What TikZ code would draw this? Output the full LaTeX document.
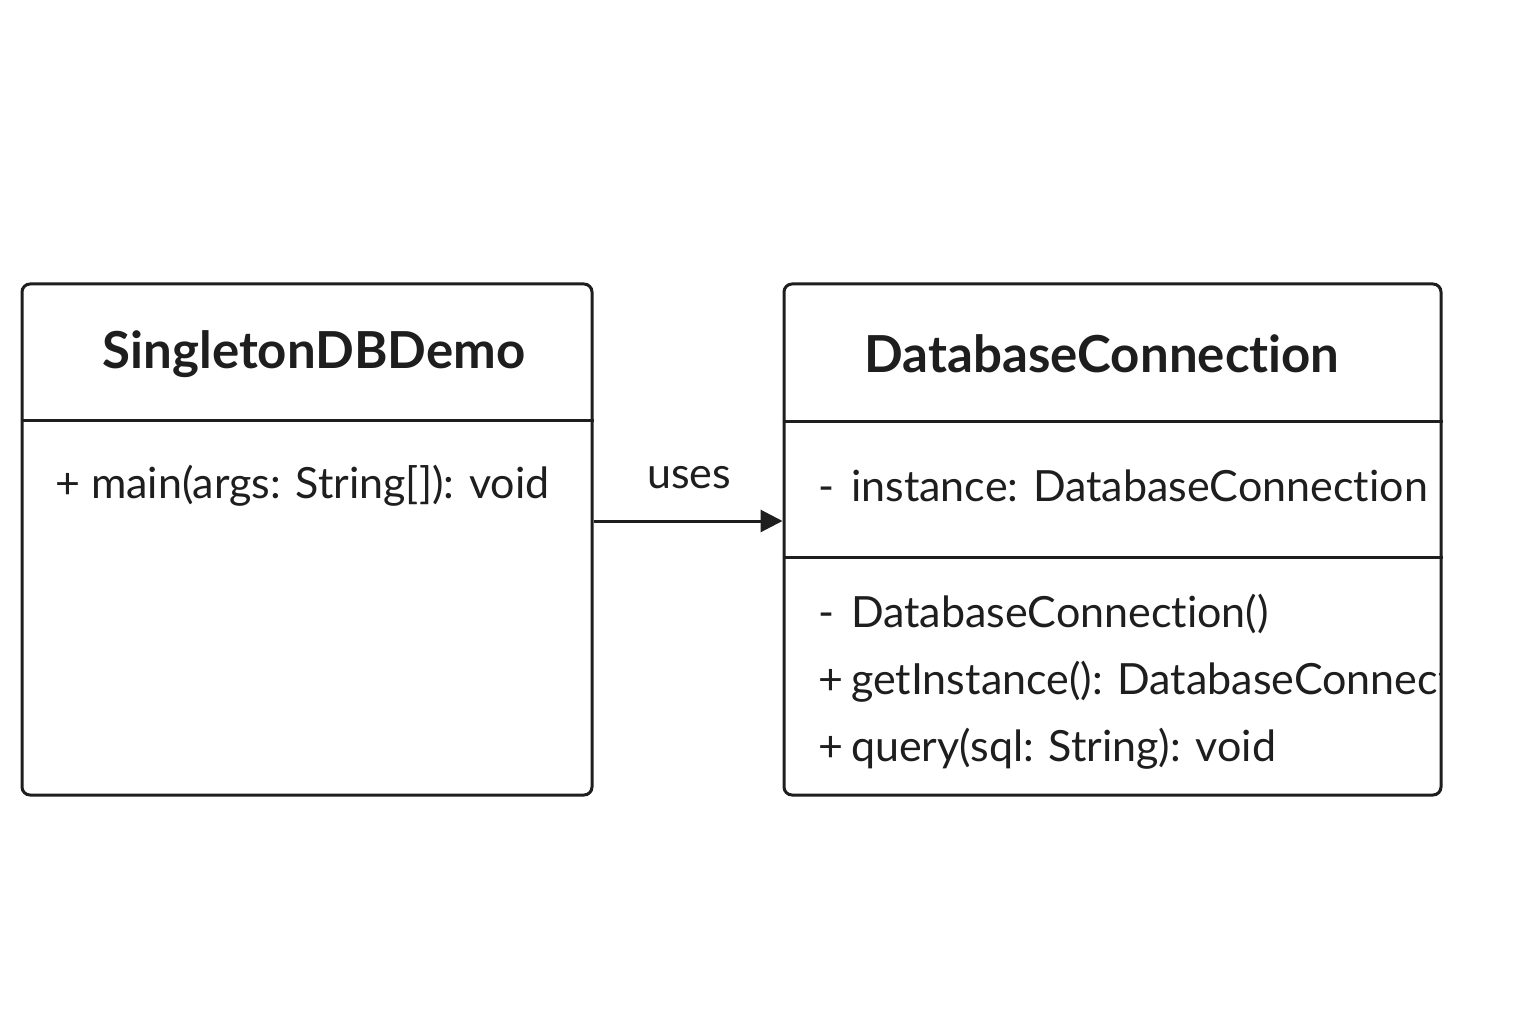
\documentclass[tikz,border=0pt]{standalone}
\usepackage{fontspec}
\setmainfont{Lato}[Ligatures={NoCommon}]
\usetikzlibrary{arrows.meta}
\definecolor{ink}{HTML}{1E1E1E}
\begin{document}
\begin{tikzpicture}[x=1pt,y=-1pt,
  classbox/.style={draw=ink, line width=3pt, rounded corners=8pt, inner sep=0pt},
  sep/.style={draw=ink, line width=3pt},
  titletxt/.style={font=\fontsize{51}{56}\selectfont\bfseries, text=ink, inner sep=0pt},
  membertxt/.style={font=\fontsize{43}{48}\selectfont, text=ink, inner sep=0pt, anchor=west},
  conn/.style={draw=ink, line width=3pt, -{Triangle[length=22pt,width=22pt]}},
  lbl/.style={font=\fontsize{43}{48}\selectfont, text=ink, inner sep=0pt}]
\useasboundingbox (0,0) rectangle (1536,1024);
\fill[white] (0,0) rectangle (1536,1024);
% left class
\node[classbox, minimum width=570pt, minimum height=511pt] (A) at (307,539.5) {};
\draw[sep] (A.west |- 0,420) -- (A.east |- 0,420);
\node[titletxt] (At) at (314,354) {SingletonDBDemo};
\node[membertxt] (Am) at (55,486) {+ main(args: String[]): void};
% right class
\node[classbox, minimum width=657pt, minimum height=511pt] (B) at (1112.5,539.5) {};
\draw[sep] (B.west |- 0,421) -- (B.east |- 0,421);
\draw[sep] (B.west |- 0,557) -- (B.east |- 0,557);
\node[titletxt] (Bt) at (1102,354) {DatabaseConnection};
\begin{scope}
\clip (786,423) rectangle (1439.5,793);
\node[membertxt] (B1) at (818,486) {\makebox[33pt][l]{-}instance: DatabaseConnection};
\node[membertxt] (B2) at (818,614) {\makebox[33pt][l]{-}DatabaseConnection()};
\node[membertxt] (B3) at (818,682) {\makebox[33pt][l]{+}getInstance(): DatabaseConnection};
\node[membertxt] (B4) at (818,749) {\makebox[33pt][l]{+}query(sql: String): void};
\end{scope}
% connector
\draw[conn] (A.east |- 0,521) -- (B.west |- 0,521);
\node[lbl] (U) at (689,478) {uses};
\end{tikzpicture}
\end{document}
